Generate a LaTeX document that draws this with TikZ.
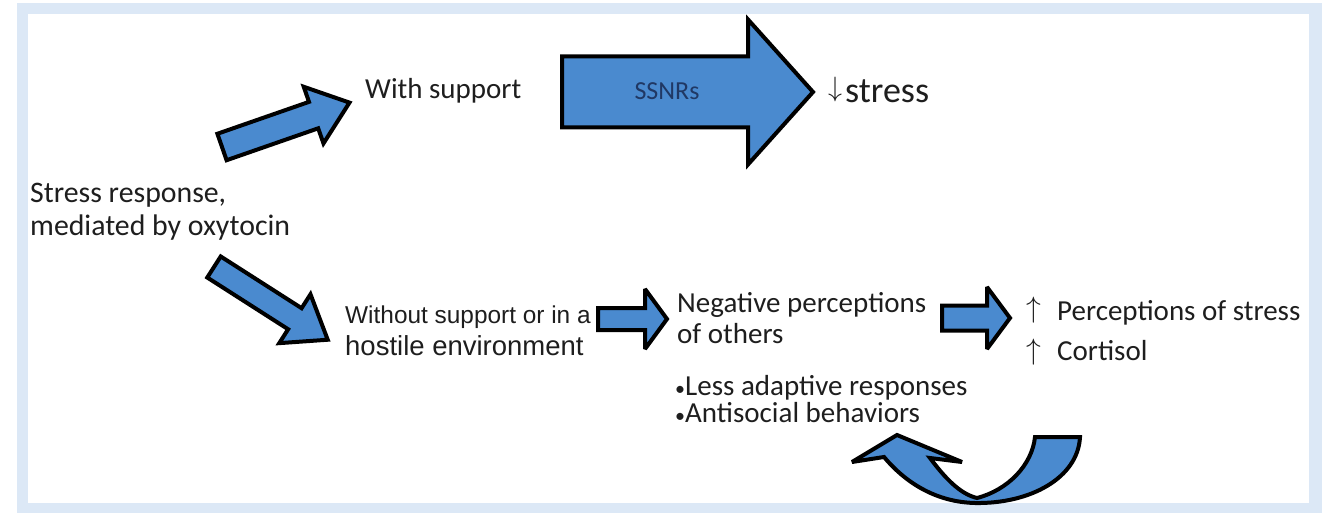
\documentclass[tikz,border=0pt]{standalone}
\usepackage{fontspec}
\setmainfont{Carlito}
\newfontfamily\arialfont{Liberation Sans}
\definecolor{framec}{RGB}{220,232,246}
\definecolor{arrowc}{RGB}{74,138,207}
\definecolor{textc}{RGB}{30,30,30}
\definecolor{ssnrc}{RGB}{32,56,100}
\tikzset{
  barrow/.style={draw=black, fill=arrowc, line width=4pt, line join=miter, miter limit=3},
  txt/.style={font=\fontsize{29}{32}\selectfont, text=textc, inner sep=0pt, anchor=base west},
  arialtxt/.style={text=textc, inner sep=0pt, anchor=base west},
  symb/.style={text=textc, inner sep=0pt, anchor=base west}
}
\newcommand\blockarrow[7]{%
  \begin{scope}[shift={(#1,#2)},rotate=#3]
    \draw[barrow] (0,{-#5/2}) -- ({#4-#7},{-#5/2}) -- ({#4-#7},{-#6/2}) -- (#4,0)
      -- ({#4-#7},{#6/2}) -- ({#4-#7},{#5/2}) -- (0,{#5/2}) -- cycle;
  \end{scope}}
\newcommand\bigup{\scalebox{2.95}{$\uparrow$}}
\newcommand\bigdown{\scalebox{2.8}{$\downarrow$}}
\newcommand\smallbullet{{\fontsize{20}{22}\selectfont •}}
\begin{document}
\begin{tikzpicture}[x=1pt,y=-1pt]
\useasboundingbox (0,0) rectangle (1327,513);
\fill[white] (0,0) rectangle (1327,513);
\fill[framec] (17,3) rectangle (1322,513);
\fill[white] (28,14) rectangle (1309,503);

% texts
\node[txt, font=\fontsize{29.8}{32}\selectfont] (sr1) at (30,203) {Stress response,};
\node[txt, font=\fontsize{29.8}{32}\selectfont] (sr2) at (30,235) {mediated by oxytocin};
\node[txt] (ws) at (365,99) {With support};
\node[symb] (dn) at (828,97) {\bigdown};
\node[txt, font=\fontsize{36}{38}\selectfont] (st) at (845,103) {stress};
\node[arialtxt, font=\arialfont\fontsize{24.4}{28}\selectfont] (wo1) at (345,323) {Without support or in a};
\node[arialtxt, font=\arialfont\fontsize{27.5}{30}\selectfont] (wo2) at (345,355) {hostile environment};
\node[txt] (np1) at (677,312) {Negative perceptions};
\node[txt] (np2) at (677,343) {of others};
\node[symb] (up1) at (1026,317.5) {\bigup};
\node[txt] (ps) at (1057,320) {Perceptions of stress};
\node[symb] (up2) at (1026,359) {\bigup};
\node[txt] (co) at (1057,360) {Cortisol};
\node[txt] (b1) at (675,395) {\smallbullet Less adaptive responses};
\node[txt] (b2) at (675,422) {\smallbullet Antisocial behaviors};

% block arrows
\blockarrow{222}{147}{19.2}{135}{28}{60}{38}
\blockarrow{214}{267}{-32.6}{135}{25}{58}{39}
\blockarrow{598}{319}{0}{69}{22}{60}{22}
\blockarrow{942}{318}{0}{68}{25}{62}{23}
\blockarrow{562}{92}{0}{251}{71}{145}{65}
\node[txt, font=\fontsize{26}{28}\selectfont, text=ssnrc, anchor=base] (ssnr) at (667,100) {SSNRs};

% curved return arrow
\draw[barrow] (897,435) -- (962,462) -- (930,458)
  .. controls (945,478) and (960,494) .. (977,498)
  .. controls (1008,490) and (1032,465) .. (1035,437)
  -- (1080,437)
  .. controls (1078,478) and (1030,504) .. (975,503)
  .. controls (935,502) and (905,482) .. (884,457)
  -- (852,462) -- cycle;
\end{tikzpicture}
\end{document}
